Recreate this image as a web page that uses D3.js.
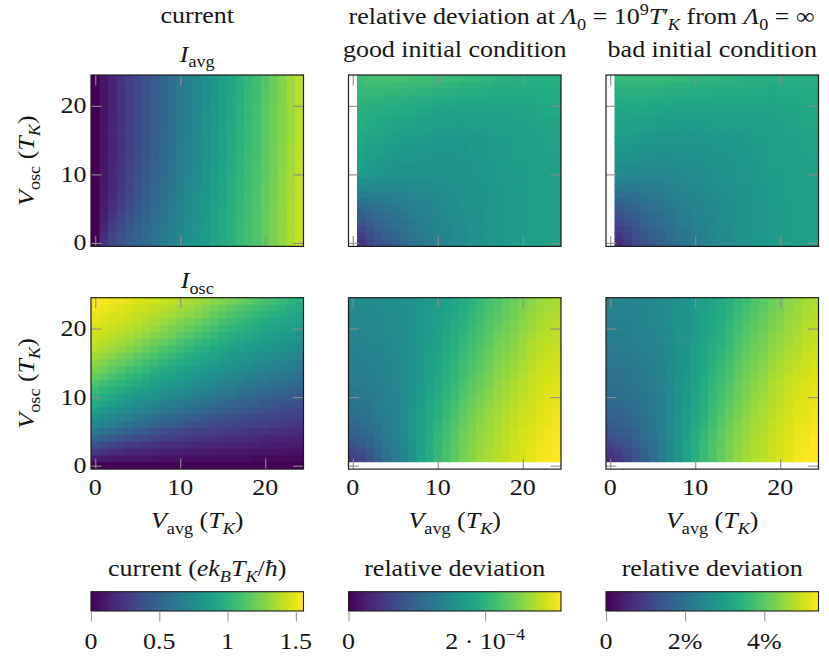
<!DOCTYPE html>
<html><head><meta charset="utf-8">
<script src="https://cdn.jsdelivr.net/npm/d3@7"></script>
<style>
body{margin:0;background:#fff}
svg text{font-family:"Liberation Serif","Times New Roman",serif;fill:#161616}
</style></head><body>
<svg id="fig" width="829" height="660"></svg>
<script>
// Grid coordinates (units of T_K)
const vAvg = [0,1,2,3,4,5,6,7,8,9,10,11,12,13,14,15,16,17,18,19,20,21,22,23,24];
const vOsc = [0,1,2,3,4,5,6,7,8,9,10,11,12,13,14,15,16,17,18,19,20,21,22,23,24];
const axisTicks = [0,10,20];

// Each inner array is one V_avg column, listing V_osc = 0..24.
// Average current I_avg (e k_B T_K / hbar)
const iAvg = [
[0,0,0,0,0, 0,0,0,0,0, 0,0,0,0,0, 0,0,0,0,0, 0,0,0,0,0],
[.22,.20,.17,.15,.13, .11,.11,.10,.10,.09, .09,.09,.09,.08,.08, .08,.08,.08,.08,.08, .08,.08,.08,.08,.08],
[.32,.31,.28,.25,.22, .21,.19,.18,.18,.17, .17,.17,.16,.16,.16, .16,.16,.16,.16,.15, .15,.15,.15,.15,.15],
[.39,.38,.36,.33,.31, .29,.27,.26,.25,.24, .24,.23,.23,.23,.22, .22,.22,.22,.22,.22, .22,.22,.22,.22,.22],
[.45,.44,.42,.40,.38, .36,.34,.33,.32,.31, .31,.30,.30,.29,.29, .29,.29,.28,.28,.28, .28,.28,.28,.28,.28],
[.50,.49,.48,.46,.44, .43,.41,.40,.39,.38, .37,.37,.36,.36,.35, .35,.35,.35,.35,.34, .34,.34,.34,.34,.34],
[.54,.54,.53,.51,.49, .48,.46,.45,.44,.43, .43,.42,.42,.41,.41, .40,.40,.40,.40,.40, .39,.39,.39,.39,.39],
[.59,.59,.58,.57,.55, .54,.53,.52,.51,.50, .49,.48,.48,.47,.47, .47,.46,.46,.46,.46, .46,.46,.45,.45,.45],
[.63,.63,.62,.61,.60, .59,.58,.57,.56,.55, .54,.54,.53,.53,.52, .52,.52,.51,.51,.51, .51,.51,.51,.50,.50],
[.67,.67,.66,.66,.65, .64,.63,.62,.61,.60, .59,.59,.58,.58,.57, .57,.57,.57,.56,.56, .56,.56,.56,.56,.55],
[.72,.72,.71,.71,.70, .69,.68,.68,.67,.66, .65,.65,.64,.64,.64, .63,.63,.63,.62,.62, .62,.62,.62,.62,.62],
[.77,.77,.77,.76,.75, .75,.74,.73,.72,.72, .71,.70,.70,.69,.69, .69,.68,.68,.68,.68, .67,.67,.67,.67,.67],
[.81,.81,.81,.80,.80, .79,.78,.78,.77,.76, .76,.75,.75,.74,.74, .74,.73,.73,.73,.73, .72,.72,.72,.72,.72],
[.85,.85,.85,.84,.84, .83,.83,.82,.82,.81, .81,.80,.80,.79,.79, .79,.78,.78,.78,.78, .77,.77,.77,.77,.77],
[.90,.90,.90,.89,.89, .89,.88,.87,.87,.86, .86,.85,.85,.85,.84, .84,.84,.83,.83,.83, .83,.82,.82,.82,.82],
[.94,.94,.94,.94,.93, .93,.92,.92,.91,.91, .91,.90,.90,.89,.89, .89,.88,.88,.88,.88, .88,.87,.87,.87,.87],
[.99,.99,.99,.99,.98, .98,.98,.97,.97,.96, .96,.95,.95,.95,.94, .94,.94,.93,.93,.93, .93,.93,.92,.92,.92],
[1.04,1.04,1.04,1.04,1.03, 1.03,1.03,1.02,1.02,1.02, 1.01,1.01,1.01,1.00,1.00, 1.00,1.00,.99,.99,.99, .99,.98,.98,.98,.98],
[1.09,1.09,1.09,1.09,1.08, 1.08,1.08,1.08,1.07,1.07, 1.07,1.06,1.06,1.06,1.05, 1.05,1.05,1.04,1.04,1.04, 1.04,1.04,1.04,1.03,1.03],
[1.13,1.13,1.13,1.13,1.13, 1.12,1.12,1.12,1.12,1.11, 1.11,1.11,1.10,1.10,1.10, 1.10,1.09,1.09,1.09,1.09, 1.09,1.08,1.08,1.08,1.08],
[1.19,1.19,1.19,1.19,1.19, 1.18,1.18,1.18,1.18,1.17, 1.17,1.17,1.17,1.16,1.16, 1.16,1.16,1.15,1.15,1.15, 1.15,1.15,1.14,1.14,1.14],
[1.24,1.24,1.24,1.24,1.24, 1.24,1.23,1.23,1.23,1.23, 1.22,1.22,1.22,1.22,1.22, 1.21,1.21,1.21,1.21,1.21, 1.21,1.20,1.20,1.20,1.20],
[1.30,1.30,1.30,1.30,1.30, 1.30,1.29,1.29,1.29,1.29, 1.29,1.28,1.28,1.28,1.28, 1.27,1.27,1.27,1.27,1.27, 1.27,1.26,1.26,1.26,1.26],
[1.36,1.36,1.36,1.36,1.36, 1.36,1.35,1.35,1.35,1.35, 1.35,1.34,1.34,1.34,1.34, 1.33,1.33,1.33,1.33,1.33, 1.33,1.32,1.32,1.32,1.32],
[1.42,1.42,1.42,1.42,1.42, 1.42,1.42,1.41,1.41,1.41, 1.41,1.41,1.41,1.40,1.40, 1.40,1.40,1.40,1.40,1.40, 1.39,1.39,1.39,1.39,1.39]
];

// Oscillating current amplitude I_osc (e k_B T_K / hbar)
const iOsc = [
[0,.12,.25,.38,.50, .62,.71,.79,.87,.94, 1.00,1.06,1.12,1.19,1.25, 1.29,1.34,1.38,1.42,1.44, 1.46,1.49,1.51,1.54,1.56],
[0,.11,.23,.35,.47, .58,.68,.76,.83,.90, .96,1.02,1.08,1.15,1.21, 1.26,1.31,1.35,1.39,1.42, 1.45,1.47,1.49,1.52,1.54],
[0,.10,.21,.32,.44, .55,.64,.73,.80,.87, .93,.99,1.05,1.11,1.17, 1.22,1.28,1.32,1.36,1.40, 1.43,1.45,1.47,1.50,1.52],
[0,.10,.20,.30,.41, .51,.61,.69,.76,.83, .89,.95,1.01,1.07,1.13, 1.19,1.24,1.30,1.34,1.37, 1.41,1.44,1.46,1.48,1.51],
[0,.09,.18,.27,.38, .48,.57,.66,.73,.80, .86,.92,.98,1.03,1.09, 1.15,1.21,1.27,1.31,1.35, 1.39,1.42,1.44,1.46,1.49],
[0,.09,.17,.26,.36, .45,.54,.63,.70,.77, .83,.89,.95,1.00,1.06, 1.12,1.17,1.23,1.28,1.32, 1.36,1.40,1.42,1.44,1.47],
[0,.08,.16,.24,.34, .43,.52,.60,.68,.74, .81,.86,.92,.97,1.03, 1.08,1.14,1.20,1.25,1.30, 1.34,1.37,1.40,1.43,1.46],
[0,.08,.15,.23,.31, .40,.49,.57,.65,.71, .78,.83,.88,.93,.99, 1.05,1.11,1.16,1.21,1.27, 1.31,1.35,1.38,1.41,1.44],
[0,.07,.14,.21,.29, .37,.46,.54,.62,.68, .75,.80,.85,.90,.96, 1.01,1.07,1.12,1.18,1.24, 1.28,1.32,1.36,1.39,1.42],
[0,.07,.13,.20,.28, .35,.44,.52,.60,.66, .73,.78,.83,.88,.93, .98,1.04,1.09,1.15,1.21, 1.25,1.29,1.34,1.37,1.40],
[0,.07,.13,.19,.27, .34,.42,.50,.57,.64, .70,.76,.81,.86,.91, .96,1.01,1.06,1.11,1.17, 1.22,1.26,1.31,1.34,1.38],
[0,.06,.12,.18,.25, .32,.39,.47,.55,.61, .68,.73,.78,.83,.88, .93,.97,1.02,1.07,1.14, 1.18,1.23,1.29,1.32,1.35],
[0,.06,.11,.17,.24, .30,.37,.45,.52,.59, .65,.71,.76,.81,.85, .90,.94,.99,1.04,1.10, 1.15,1.20,1.26,1.29,1.33],
[0,.06,.11,.17,.23, .29,.36,.43,.50,.57, .63,.69,.74,.79,.83, .88,.92,.97,1.01,1.07, 1.12,1.17,1.23,1.26,1.31],
[0,.06,.11,.16,.22, .28,.34,.41,.48,.55, .61,.67,.72,.77,.81, .86,.90,.94,.99,1.04, 1.09,1.14,1.19,1.23,1.28],
[0,.05,.10,.16,.21, .27,.33,.39,.46,.52, .58,.64,.69,.74,.79, .83,.87,.92,.96,1.00, 1.05,1.10,1.16,1.20,1.26],
[0,.05,.10,.15,.20, .26,.31,.37,.44,.50, .56,.62,.67,.72,.77, .81,.85,.89,.93,.97, 1.02,1.07,1.12,1.17,1.23],
[0,.05,.10,.15,.19, .25,.30,.36,.42,.48, .54,.60,.65,.70,.75, .79,.83,.87,.91,.95, 1.00,1.04,1.09,1.14,1.20],
[0,.05,.09,.14,.19, .24,.30,.35,.41,.47, .52,.58,.63,.68,.73, .77,.82,.85,.89,.93, .97,1.01,1.06,1.11,1.17],
[0,.04,.09,.14,.18, .23,.29,.33,.39,.45, .50,.56,.61,.66,.71, .75,.80,.83,.87,.90, .95,.98,1.03,1.08,1.13],
[0,.04,.08,.13,.17, .22,.28,.32,.37,.43, .48,.54,.59,.64,.69, .73,.78,.81,.85,.88, .92,.95,1.00,1.05,1.10],
[0,.04,.08,.13,.17, .21,.27,.31,.36,.42, .47,.52,.57,.62,.67, .71,.76,.80,.83,.87, .90,.93,.98,1.02,1.07],
[0,.04,.08,.12,.16, .21,.26,.30,.35,.40, .45,.51,.56,.61,.66, .70,.74,.78,.82,.85, .89,.92,.96,1.00,1.04],
[0,.04,.07,.12,.15, .20,.25,.29,.33,.39, .44,.49,.54,.59,.64, .68,.72,.77,.80,.84, .87,.90,.93,.97,1.01],
[0,.04,.07,.11,.15, .19,.24,.28,.32,.37, .42,.47,.52,.57,.62, .66,.70,.75,.78,.82, .85,.88,.91,.94,.98]
];

// Relative deviation of I_avg, good initial condition (units of 1e-4)
const devGoodAvg = [
[null,null,null,null,null, null,null,null,null,null, null,null,null,null,null, null,null,null,null,null, null,null,null,null,null],
[.47,.58,.69,.81,.92, 1.03,1.17,1.30,1.44,1.57, 1.71,1.74,1.77,1.81,1.84, 1.87,1.89,1.92,1.94,1.97, 1.99,2.03,2.07,2.11,2.15],
[.62,.71,.81,.90,1.00, 1.09,1.20,1.31,1.43,1.54, 1.65,1.69,1.72,1.76,1.79, 1.83,1.86,1.88,1.91,1.93, 1.96,2.02,2.07,2.13,2.18],
[.78,.85,.93,1.00,1.08, 1.15,1.24,1.34,1.43,1.53, 1.62,1.66,1.69,1.73,1.76, 1.80,1.83,1.86,1.90,1.93, 1.96,2.02,2.07,2.13,2.18],
[.87,.93,.99,1.06,1.12, 1.18,1.26,1.34,1.43,1.51, 1.59,1.63,1.66,1.70,1.73, 1.77,1.80,1.83,1.87,1.90, 1.93,1.99,2.06,2.12,2.18],
[.96,1.02,1.07,1.13,1.18, 1.24,1.30,1.37,1.43,1.50, 1.56,1.60,1.63,1.67,1.70, 1.74,1.78,1.81,1.85,1.89, 1.93,1.99,2.06,2.12,2.18],
[1.06,1.10,1.15,1.19,1.24, 1.28,1.34,1.39,1.45,1.50, 1.56,1.59,1.62,1.65,1.68, 1.71,1.75,1.79,1.82,1.86, 1.90,1.97,2.04,2.11,2.18],
[1.15,1.19,1.23,1.26,1.30, 1.34,1.38,1.43,1.47,1.52, 1.56,1.59,1.62,1.65,1.68, 1.71,1.75,1.79,1.82,1.86, 1.90,1.96,2.03,2.09,2.15],
[1.24,1.27,1.29,1.32,1.34, 1.37,1.41,1.45,1.48,1.52, 1.56,1.58,1.61,1.63,1.66, 1.68,1.72,1.76,1.79,1.83, 1.87,1.94,2.01,2.08,2.15],
[1.31,1.33,1.35,1.36,1.38, 1.40,1.43,1.46,1.50,1.53, 1.56,1.58,1.61,1.63,1.66, 1.68,1.72,1.76,1.79,1.83, 1.87,1.94,2.01,2.08,2.15],
[1.37,1.39,1.41,1.42,1.44, 1.46,1.48,1.50,1.52,1.54, 1.56,1.58,1.60,1.61,1.63, 1.65,1.69,1.72,1.76,1.79, 1.83,1.90,1.97,2.04,2.11],
[1.40,1.42,1.44,1.45,1.47, 1.49,1.50,1.52,1.53,1.55, 1.56,1.58,1.60,1.61,1.63, 1.65,1.69,1.72,1.76,1.79, 1.83,1.90,1.97,2.04,2.11],
[1.46,1.47,1.48,1.50,1.51, 1.52,1.53,1.55,1.56,1.58, 1.59,1.60,1.61,1.63,1.64, 1.65,1.69,1.72,1.76,1.79, 1.83,1.89,1.96,2.02,2.08],
[1.49,1.50,1.52,1.53,1.55, 1.56,1.57,1.57,1.58,1.58, 1.59,1.60,1.61,1.63,1.64, 1.65,1.68,1.71,1.74,1.77, 1.80,1.86,1.93,1.99,2.05],
[1.56,1.56,1.56,1.56,1.56, 1.56,1.57,1.58,1.60,1.61, 1.62,1.63,1.64,1.66,1.67, 1.68,1.70,1.73,1.75,1.78, 1.80,1.86,1.93,1.99,2.05],
[1.59,1.59,1.59,1.59,1.59, 1.59,1.60,1.60,1.61,1.61, 1.62,1.63,1.64,1.66,1.67, 1.68,1.70,1.73,1.75,1.78, 1.80,1.86,1.91,1.97,2.02],
[1.62,1.62,1.62,1.62,1.62, 1.62,1.63,1.63,1.64,1.64, 1.65,1.66,1.66,1.67,1.67, 1.68,1.70,1.73,1.75,1.78, 1.80,1.86,1.91,1.97,2.02],
[1.65,1.65,1.65,1.65,1.65, 1.65,1.66,1.66,1.67,1.67, 1.68,1.69,1.69,1.70,1.70, 1.71,1.73,1.75,1.76,1.78, 1.80,1.85,1.90,1.94,1.99],
[1.68,1.68,1.68,1.68,1.68, 1.68,1.68,1.68,1.68,1.68, 1.68,1.69,1.69,1.70,1.70, 1.71,1.73,1.75,1.76,1.78, 1.80,1.85,1.90,1.94,1.99],
[1.71,1.71,1.71,1.71,1.71, 1.71,1.71,1.71,1.71,1.71, 1.71,1.72,1.72,1.73,1.73, 1.74,1.76,1.78,1.79,1.81, 1.83,1.86,1.90,1.93,1.96],
[1.71,1.71,1.71,1.71,1.71, 1.71,1.71,1.71,1.71,1.71, 1.71,1.72,1.72,1.73,1.73, 1.74,1.76,1.78,1.79,1.81, 1.83,1.86,1.90,1.93,1.96],
[1.74,1.74,1.74,1.74,1.74, 1.74,1.74,1.74,1.74,1.74, 1.74,1.75,1.75,1.76,1.76, 1.77,1.78,1.79,1.81,1.82, 1.83,1.86,1.88,1.91,1.93],
[1.74,1.74,1.74,1.74,1.74, 1.74,1.74,1.74,1.74,1.74, 1.74,1.75,1.75,1.76,1.76, 1.77,1.79,1.81,1.83,1.85, 1.87,1.89,1.90,1.92,1.93],
[1.77,1.77,1.77,1.77,1.77, 1.77,1.77,1.77,1.77,1.77, 1.77,1.78,1.78,1.79,1.79, 1.80,1.81,1.83,1.84,1.86, 1.87,1.89,1.90,1.92,1.93],
[1.77,1.77,1.77,1.77,1.77, 1.77,1.77,1.77,1.77,1.77, 1.77,1.78,1.78,1.79,1.79, 1.80,1.81,1.83,1.84,1.86, 1.87,1.89,1.90,1.92,1.93]
];

// Relative deviation of I_avg, bad initial condition (percent)
const devBadAvg = [
[null,null,null,null,null, null,null,null,null,null, null,null,null,null,null, null,null,null,null,null, null,null,null,null,null],
[.65,.82,.99,1.17,1.34, 1.51,1.71,1.92,2.12,2.33, 2.53,2.62,2.70,2.79,2.87, 2.96,3.01,3.07,3.12,3.18, 3.23,3.31,3.39,3.47,3.55],
[.91,1.05,1.19,1.33,1.47, 1.61,1.79,1.98,2.16,2.35, 2.53,2.62,2.70,2.79,2.87, 2.96,3.01,3.07,3.12,3.18, 3.23,3.32,3.42,3.51,3.60],
[1.18,1.29,1.40,1.50,1.61, 1.72,1.87,2.02,2.17,2.32, 2.47,2.56,2.65,2.73,2.82, 2.91,2.97,3.04,3.10,3.17, 3.23,3.32,3.42,3.51,3.60],
[1.35,1.45,1.54,1.64,1.73, 1.83,1.96,2.09,2.21,2.34, 2.47,2.55,2.62,2.70,2.77, 2.85,2.93,3.00,3.08,3.15, 3.23,3.32,3.42,3.51,3.60],
[1.51,1.60,1.68,1.77,1.85, 1.94,2.05,2.15,2.26,2.36, 2.47,2.55,2.62,2.70,2.77, 2.85,2.91,2.98,3.04,3.11, 3.17,3.28,3.39,3.49,3.60],
[1.67,1.74,1.82,1.89,1.97, 2.04,2.13,2.21,2.30,2.38, 2.47,2.54,2.60,2.67,2.73, 2.80,2.87,2.95,3.02,3.10, 3.17,3.28,3.39,3.49,3.60],
[1.83,1.89,1.96,2.02,2.09, 2.15,2.23,2.30,2.38,2.45, 2.53,2.58,2.64,2.69,2.75, 2.80,2.87,2.95,3.02,3.10, 3.17,3.27,3.36,3.46,3.55],
[1.99,2.04,2.10,2.15,2.21, 2.26,2.31,2.37,2.42,2.48, 2.53,2.58,2.64,2.69,2.75, 2.80,2.86,2.93,2.99,3.06, 3.12,3.23,3.34,3.44,3.55],
[2.10,2.14,2.18,2.23,2.27, 2.31,2.36,2.42,2.47,2.53, 2.58,2.62,2.67,2.71,2.76, 2.80,2.86,2.93,2.99,3.06, 3.12,3.23,3.34,3.44,3.55],
[2.21,2.25,2.29,2.34,2.38, 2.42,2.45,2.48,2.52,2.55, 2.58,2.62,2.67,2.71,2.76, 2.80,2.86,2.93,2.99,3.06, 3.12,3.22,3.31,3.41,3.50],
[2.31,2.34,2.37,2.41,2.44, 2.47,2.50,2.54,2.57,2.61, 2.64,2.67,2.70,2.74,2.77, 2.80,2.86,2.93,2.99,3.06, 3.12,3.22,3.31,3.41,3.50],
[2.42,2.44,2.46,2.49,2.51, 2.53,2.56,2.59,2.63,2.66, 2.69,2.72,2.75,2.79,2.82, 2.85,2.90,2.96,3.01,3.07, 3.12,3.22,3.31,3.41,3.50],
[2.53,2.54,2.55,2.56,2.57, 2.58,2.60,2.62,2.65,2.67, 2.69,2.72,2.75,2.79,2.82, 2.85,2.90,2.96,3.01,3.07, 3.12,3.20,3.28,3.36,3.44],
[2.58,2.59,2.60,2.62,2.63, 2.64,2.66,2.68,2.70,2.72, 2.74,2.76,2.78,2.81,2.83, 2.85,2.90,2.96,3.01,3.07, 3.12,3.20,3.28,3.36,3.44],
[2.69,2.69,2.69,2.69,2.69, 2.69,2.71,2.73,2.76,2.78, 2.80,2.82,2.84,2.87,2.89, 2.91,2.95,2.99,3.04,3.08, 3.12,3.20,3.28,3.36,3.44],
[2.74,2.74,2.74,2.74,2.74, 2.74,2.75,2.76,2.78,2.79, 2.80,2.82,2.84,2.87,2.89, 2.91,2.95,2.99,3.04,3.08, 3.12,3.19,3.25,3.32,3.39],
[2.80,2.80,2.80,2.80,2.80, 2.80,2.81,2.82,2.83,2.84, 2.85,2.87,2.89,2.92,2.94, 2.96,2.99,3.02,3.06,3.09, 3.12,3.19,3.25,3.32,3.39],
[2.85,2.85,2.85,2.85,2.85, 2.85,2.86,2.87,2.89,2.90, 2.91,2.92,2.93,2.94,2.95, 2.96,2.99,3.02,3.06,3.09, 3.12,3.19,3.25,3.32,3.39],
[2.91,2.91,2.91,2.91,2.91, 2.91,2.92,2.93,2.94,2.95, 2.96,2.97,2.98,2.99,3.00, 3.01,3.03,3.05,3.08,3.10, 3.12,3.18,3.23,3.29,3.34],
[2.96,2.96,2.96,2.96,2.96, 2.96,2.96,2.96,2.96,2.96, 2.96,2.97,2.98,2.99,3.00, 3.01,3.04,3.07,3.11,3.14, 3.17,3.21,3.25,3.30,3.34],
[2.96,2.96,2.96,2.96,2.96, 2.96,2.97,2.98,2.99,3.00, 3.01,3.02,3.03,3.05,3.06, 3.07,3.09,3.11,3.13,3.15, 3.17,3.21,3.25,3.30,3.34],
[3.01,3.01,3.01,3.01,3.01, 3.01,3.01,3.01,3.01,3.01, 3.01,3.02,3.03,3.05,3.06, 3.07,3.09,3.11,3.13,3.15, 3.17,3.21,3.25,3.30,3.34],
[3.01,3.01,3.01,3.01,3.01, 3.01,3.02,3.03,3.05,3.06, 3.07,3.08,3.09,3.10,3.11, 3.12,3.14,3.16,3.19,3.21, 3.23,3.26,3.29,3.31,3.34],
[3.07,3.07,3.07,3.07,3.07, 3.07,3.07,3.07,3.07,3.07, 3.07,3.08,3.09,3.10,3.11, 3.12,3.14,3.16,3.19,3.21, 3.23,3.26,3.29,3.31,3.34]
];

// Relative deviation of I_osc, good initial condition (units of 1e-4)
const devGoodOsc = [
[null,.56,.67,.79,.90, .96,1.03,1.09,1.15,1.18, 1.22,1.25,1.28,1.30,1.32, 1.34,1.36,1.38,1.40,1.42, 1.43,1.45,1.46,1.48,1.49],
[null,.65,.75,.86,.96, 1.02,1.07,1.13,1.18,1.21, 1.23,1.26,1.28,1.30,1.32, 1.34,1.36,1.38,1.40,1.42, 1.43,1.45,1.46,1.48,1.49],
[null,.78,.86,.95,1.03, 1.08,1.12,1.17,1.21,1.24, 1.26,1.29,1.31,1.33,1.34, 1.36,1.37,1.39,1.40,1.42, 1.43,1.45,1.46,1.48,1.49],
[null,.96,1.01,1.07,1.12, 1.16,1.20,1.24,1.28,1.30, 1.31,1.33,1.34,1.36,1.37, 1.39,1.40,1.42,1.43,1.44, 1.45,1.46,1.47,1.48,1.49],
[null,1.15,1.18,1.21,1.24, 1.27,1.29,1.32,1.34,1.35, 1.36,1.36,1.37,1.39,1.40, 1.42,1.43,1.45,1.46,1.47, 1.48,1.49,1.50,1.51,1.52],
[null,1.28,1.30,1.32,1.34, 1.36,1.37,1.39,1.40,1.41, 1.42,1.42,1.43,1.44,1.45, 1.46,1.47,1.48,1.49,1.50, 1.50,1.51,1.51,1.52,1.52],
[null,1.40,1.42,1.44,1.46, 1.47,1.47,1.48,1.49,1.49, 1.49,1.49,1.49,1.50,1.50, 1.51,1.51,1.52,1.52,1.53, 1.53,1.54,1.55,1.55,1.56],
[null,1.59,1.60,1.61,1.62, 1.62,1.62,1.62,1.62,1.61, 1.61,1.60,1.59,1.59,1.59, 1.59,1.59,1.59,1.59,1.59, 1.59,1.59,1.59,1.59,1.59],
[null,1.77,1.77,1.77,1.77, 1.76,1.76,1.75,1.74,1.73, 1.71,1.70,1.68,1.68,1.67, 1.67,1.66,1.66,1.65,1.65, 1.64,1.64,1.63,1.63,1.62],
[null,1.93,1.92,1.91,1.90, 1.89,1.89,1.88,1.87,1.85, 1.82,1.80,1.77,1.76,1.75, 1.74,1.73,1.72,1.71,1.71, 1.70,1.70,1.69,1.69,1.68],
[null,2.08,2.07,2.06,2.05, 2.03,2.01,1.98,1.96,1.94, 1.92,1.89,1.87,1.85,1.84, 1.82,1.80,1.79,1.77,1.76, 1.75,1.74,1.73,1.72,1.71],
[null,2.21,2.20,2.19,2.18, 2.16,2.13,2.11,2.08,2.06, 2.04,2.01,1.99,1.97,1.95, 1.93,1.91,1.89,1.87,1.85, 1.84,1.82,1.80,1.79,1.77],
[null,2.33,2.32,2.31,2.30, 2.28,2.26,2.23,2.21,2.18, 2.15,2.11,2.08,2.06,2.04, 2.02,2.00,1.98,1.96,1.94, 1.92,1.90,1.87,1.85,1.83],
[null,2.46,2.45,2.44,2.43, 2.41,2.38,2.36,2.33,2.30, 2.27,2.24,2.21,2.18,2.16, 2.13,2.10,2.08,2.05,2.03, 2.00,1.98,1.95,1.93,1.90],
[null,2.55,2.54,2.53,2.52, 2.50,2.48,2.45,2.43,2.40, 2.37,2.33,2.30,2.28,2.25, 2.23,2.20,2.18,2.15,2.12, 2.10,2.07,2.04,2.02,1.99],
[null,2.64,2.63,2.62,2.61, 2.59,2.57,2.54,2.52,2.49, 2.46,2.42,2.39,2.37,2.34, 2.32,2.29,2.27,2.24,2.21, 2.19,2.16,2.13,2.11,2.08],
[null,2.71,2.70,2.68,2.67, 2.66,2.64,2.63,2.61,2.58, 2.55,2.52,2.49,2.46,2.44, 2.41,2.38,2.36,2.33,2.31, 2.28,2.26,2.23,2.21,2.18],
[null,2.77,2.76,2.75,2.74, 2.72,2.71,2.69,2.67,2.65, 2.63,2.60,2.58,2.56,2.53, 2.51,2.48,2.46,2.43,2.40, 2.37,2.34,2.30,2.27,2.24],
[null,2.83,2.82,2.81,2.80, 2.79,2.77,2.76,2.74,2.72, 2.69,2.67,2.64,2.62,2.59, 2.57,2.54,2.52,2.49,2.46, 2.44,2.41,2.38,2.36,2.33],
[null,2.89,2.88,2.87,2.86, 2.85,2.83,2.82,2.80,2.78, 2.76,2.73,2.71,2.68,2.66, 2.63,2.60,2.58,2.55,2.52, 2.50,2.47,2.44,2.42,2.39],
[null,2.92,2.92,2.92,2.92, 2.91,2.89,2.88,2.86,2.84, 2.82,2.79,2.77,2.75,2.73, 2.71,2.68,2.66,2.64,2.62, 2.59,2.57,2.54,2.52,2.49],
[null,2.99,2.98,2.96,2.95, 2.94,2.92,2.91,2.89,2.88, 2.86,2.85,2.83,2.81,2.79, 2.77,2.75,2.73,2.71,2.68, 2.66,2.63,2.60,2.58,2.55],
[null,3.05,3.04,3.03,3.02, 3.00,2.99,2.97,2.95,2.94, 2.92,2.91,2.89,2.87,2.85, 2.83,2.81,2.79,2.77,2.75, 2.73,2.71,2.68,2.66,2.64],
[null,3.08,3.07,3.06,3.05, 3.04,3.02,3.01,2.99,2.97, 2.96,2.94,2.92,2.90,2.88, 2.86,2.84,2.82,2.80,2.78, 2.76,2.74,2.71,2.69,2.67],
[null,3.11,3.10,3.09,3.08, 3.07,3.05,3.04,3.02,3.00, 2.99,2.97,2.95,2.93,2.91, 2.89,2.87,2.85,2.83,2.81, 2.79,2.77,2.75,2.73,2.71]
];

// Relative deviation of I_osc, bad initial condition (percent)
const devBadOsc = [
[null,.70,.90,1.09,1.29, 1.40,1.51,1.61,1.72,1.79, 1.86,1.92,1.99,2.04,2.08, 2.13,2.17,2.22,2.26,2.29, 2.31,2.34,2.37,2.39,2.42],
[null,.86,1.04,1.22,1.40, 1.50,1.59,1.69,1.78,1.83, 1.89,1.94,1.99,2.04,2.08, 2.13,2.17,2.22,2.26,2.29, 2.31,2.34,2.37,2.39,2.42],
[null,1.08,1.22,1.37,1.51, 1.59,1.67,1.75,1.83,1.88, 1.94,1.99,2.04,2.08,2.11, 2.15,2.19,2.22,2.26,2.29, 2.31,2.34,2.37,2.39,2.42],
[null,1.35,1.46,1.56,1.67, 1.74,1.81,1.87,1.94,1.98, 2.02,2.06,2.10,2.14,2.17, 2.21,2.24,2.28,2.31,2.34, 2.36,2.39,2.42,2.44,2.47],
[null,1.61,1.68,1.76,1.83, 1.88,1.94,1.99,2.04,2.07, 2.10,2.12,2.15,2.19,2.22, 2.26,2.30,2.33,2.37,2.39, 2.40,2.42,2.44,2.45,2.47],
[null,1.88,1.93,1.99,2.04, 2.07,2.10,2.12,2.15,2.18, 2.21,2.23,2.26,2.29,2.31, 2.34,2.37,2.39,2.42,2.44, 2.46,2.48,2.49,2.51,2.53],
[null,2.15,2.19,2.22,2.26, 2.27,2.29,2.30,2.31,2.33, 2.34,2.36,2.37,2.39,2.40, 2.42,2.44,2.45,2.47,2.49, 2.51,2.53,2.54,2.56,2.58],
[null,2.47,2.49,2.51,2.53, 2.53,2.53,2.53,2.53,2.53, 2.53,2.53,2.53,2.54,2.55, 2.56,2.56,2.57,2.58,2.59, 2.60,2.61,2.62,2.63,2.64],
[null,2.80,2.80,2.80,2.80, 2.79,2.77,2.76,2.74,2.73, 2.72,2.70,2.69,2.69,2.69, 2.69,2.69,2.69,2.69,2.69, 2.69,2.69,2.69,2.69,2.69],
[null,3.12,3.10,3.09,3.07, 3.04,3.02,2.99,2.96,2.93, 2.91,2.88,2.85,2.84,2.83, 2.83,2.82,2.81,2.80,2.80, 2.80,2.80,2.80,2.80,2.80],
[null,3.39,3.37,3.36,3.34, 3.30,3.26,3.21,3.17,3.15, 3.12,3.10,3.07,3.05,3.03, 3.02,3.00,2.98,2.96,2.95, 2.94,2.94,2.93,2.92,2.91],
[null,3.66,3.64,3.62,3.60, 3.55,3.50,3.44,3.39,3.36, 3.34,3.31,3.28,3.25,3.23, 3.20,3.17,3.15,3.12,3.10, 3.08,3.07,3.05,3.03,3.01],
[null,3.87,3.85,3.84,3.82, 3.78,3.74,3.70,3.66,3.62, 3.58,3.54,3.50,3.46,3.43, 3.39,3.35,3.32,3.28,3.25, 3.23,3.20,3.17,3.15,3.12],
[null,4.09,4.07,4.06,4.04, 4.00,3.96,3.91,3.87,3.83, 3.79,3.75,3.71,3.67,3.62, 3.58,3.53,3.49,3.44,3.41, 3.37,3.34,3.30,3.27,3.23],
[null,4.30,4.28,4.27,4.25, 4.21,4.17,4.13,4.09,4.04, 3.98,3.93,3.87,3.83,3.78, 3.74,3.69,3.65,3.60,3.57, 3.53,3.50,3.46,3.43,3.39],
[null,4.47,4.45,4.43,4.41, 4.37,4.33,4.29,4.25,4.21, 4.17,4.13,4.09,4.05,4.00, 3.96,3.91,3.87,3.82,3.78, 3.73,3.69,3.64,3.60,3.55],
[null,4.63,4.61,4.59,4.57, 4.53,4.49,4.45,4.41,4.37, 4.33,4.29,4.25,4.21,4.16, 4.12,4.07,4.03,3.98,3.94, 3.89,3.85,3.80,3.76,3.71],
[null,4.73,4.71,4.70,4.68, 4.65,4.63,4.60,4.57,4.53, 4.49,4.45,4.41,4.37,4.32, 4.28,4.23,4.19,4.14,4.10, 4.05,4.01,3.96,3.92,3.87],
[null,4.84,4.82,4.81,4.79, 4.76,4.74,4.71,4.68,4.64, 4.60,4.56,4.52,4.48,4.43, 4.39,4.34,4.30,4.25,4.21, 4.16,4.12,4.07,4.03,3.98],
[null,4.95,4.93,4.92,4.90, 4.87,4.85,4.82,4.79,4.76, 4.74,4.71,4.68,4.64,4.59, 4.55,4.50,4.46,4.41,4.37, 4.32,4.28,4.23,4.19,4.14],
[null,5.06,5.04,5.02,5.00, 4.98,4.95,4.93,4.90,4.87, 4.85,4.82,4.79,4.75,4.70, 4.66,4.61,4.57,4.52,4.48, 4.43,4.39,4.34,4.30,4.25],
[null,5.16,5.14,5.13,5.11, 5.08,5.06,5.03,5.00,4.98, 4.95,4.93,4.90,4.86,4.81, 4.77,4.72,4.68,4.63,4.59, 4.56,4.52,4.48,4.45,4.41],
[null,5.27,5.25,5.24,5.22, 5.19,5.17,5.14,5.11,5.08, 5.06,5.03,5.00,4.96,4.91, 4.87,4.82,4.78,4.73,4.70, 4.66,4.63,4.59,4.56,4.52],
[null,5.33,5.31,5.29,5.27, 5.24,5.22,5.19,5.16,5.14, 5.11,5.09,5.06,5.02,4.99, 4.95,4.91,4.88,4.84,4.81, 4.77,4.74,4.70,4.67,4.63],
[null,5.38,5.36,5.35,5.33, 5.30,5.28,5.25,5.22,5.19, 5.17,5.14,5.11,5.08,5.04, 5.01,4.97,4.94,4.90,4.86, 4.83,4.79,4.75,4.72,4.68]
];

// Colour ranges and colour-bar ticks
const currentMax = 1.556, goodMax = 3.11, badMax = 5.37;
const currentTicks = [0, 0.5, 1, 1.5];
const goodTicks = [0, 2];      // in units of 1e-4
const badTicks = [0, 2, 4];    // percent

// ---------- layout ----------
const colX = [91, 348.5, 606], PW = 212.5;
const rowY = [75, 297.7], PH = 171.4;
const FS = 23, SX = 1.13, TL = 10.5;
const CBY = 591.7, CBH = 19.3;
const FONT = '"Liberation Serif","Times New Roman",serif';

const svg = d3.select("#fig");
const defs = svg.append("defs");

// text with italic / sub / superscript runs
function rich(x, y, parts, opt = {}) {
  const size = opt.size || FS, anchor = opt.anchor || "middle";
  const t = svg.append("text")
    .attr("transform", `translate(${x},${y})${opt.rotate ? ` rotate(${opt.rotate})` : ""} scale(${SX},1)`)
    .attr("text-anchor", anchor).attr("font-size", size).attr("font-family", FONT);
  let off = 0;
  parts.forEach(p => {
    if (typeof p === "string") p = { t: p };
    const target = p.sub ? size * 0.24 : p.sup ? -size * 0.4 : 0;
    const s = t.append("tspan").text(p.t).attr("dy", target - off);
    if (p.sub || p.sup) s.attr("font-size", size * 0.7);
    if (p.it) s.attr("font-style", "italic");
    if (p.dx) s.attr("dx", p.dx);
    off = target;
  });
  return t;
}

const panels = [
  { data: iAvg,       col: 0, row: 0, max: currentMax },
  { data: devGoodAvg, col: 1, row: 0, max: goodMax },
  { data: devBadAvg,  col: 2, row: 0, max: badMax },
  { data: iOsc,       col: 0, row: 1, max: currentMax },
  { data: devGoodOsc, col: 1, row: 1, max: goodMax },
  { data: devBadOsc,  col: 2, row: 1, max: badMax }
];

panels.forEach(p => {
  const x0 = colX[p.col], y0 = rowY[p.row];
  const x = d3.scaleLinear().domain([-0.5, 24.5]).range([x0, x0 + PW]);
  const y = d3.scaleLinear().domain([-0.5, 24.5]).range([y0 + PH, y0]);
  const color = d3.scaleSequential(d3.interpolateViridis).domain([0, p.max]).clamp(true);
  const id = `clip${p.col}${p.row}`;
  defs.append("clipPath").attr("id", id).append("rect")
    .attr("x", x0).attr("y", y0).attr("width", PW).attr("height", PH);

  const cells = [];
  p.data.forEach((column, i) => column.forEach((v, j) => {
    if (v != null) cells.push({ a: vAvg[i], o: vOsc[j], v });
  }));
  const cw = x(1) - x(0), ch = y(0) - y(1);
  svg.append("g").attr("clip-path", `url(#${id})`)
    .selectAll("rect").data(cells).join("rect")
    .attr("x", d => x(d.a - 0.5)).attr("y", d => y(d.o + 0.5) - 0.7)
    .attr("width", cw + 0.7).attr("height", ch + 0.7)
    .attr("fill", d => color(d.v));

  // inward ticks on all four sides
  const inward = (axis, tx, ty) => {
    const g = svg.append("g").attr("transform", `translate(${tx},${ty})`)
      .call(axis.tickValues(axisTicks).tickSizeInner(-TL).tickSizeOuter(0).tickFormat(""));
    g.select(".domain").remove();
    g.selectAll("text").remove();
    g.selectAll("line").attr("stroke", "#8c8c8c").attr("stroke-width", 1.1);
  };
  inward(d3.axisBottom(x), 0, y0 + PH);
  inward(d3.axisTop(x), 0, y0);
  inward(d3.axisLeft(y), x0, 0);
  inward(d3.axisRight(y), x0 + PW, 0);

  svg.append("rect").attr("x", x0).attr("y", y0).attr("width", PW).attr("height", PH)
    .attr("fill", "none").attr("stroke", "#1c1c1c").attr("stroke-width", 1.2);

  if (p.row === 1) axisTicks.forEach(v => rich(x(v), y0 + PH + 25.7, [String(v)]));
  if (p.col === 0) axisTicks.forEach(v => rich(x0 - 4.5, y(v) + 7.5, [String(v)], { anchor: "end" }));
});

// titles
const cx = c => colX[c] + PW / 2;
rich(cx(0), 23.3, ["current"]);
rich(cx(0), 61.5, [{ t: "I", it: true }, { t: "avg", sub: true }]);
rich((colX[1] + colX[2] + PW) / 2 - 2, 24, [
  "relative deviation at ", { t: "Λ", it: true }, { t: "0", sub: true }, " = 10", { t: "9", sup: true },
  { t: "T", it: true }, { t: "′" }, { t: "K", it: true, sub: true, dx: -1 }, " from ",
  { t: "Λ", it: true }, { t: "0", sub: true }, " = ∞"
]);
rich(cx(1), 56.7, ["good initial condition"]);
rich(cx(2), 56.7, ["bad initial condition"]);
rich(cx(0), 288, [{ t: "I", it: true }, { t: "osc", sub: true }]);

// axis labels
const yLab = [{ t: "V", it: true }, { t: "osc", sub: true }, " (", { t: "T", it: true }, { t: "K", it: true, sub: true }, ")"];
rowY.forEach(r => rich(34, r + PH / 2, yLab, { rotate: -90 }));
const xLab = [{ t: "V", it: true }, { t: "avg", sub: true }, " (", { t: "T", it: true }, { t: "K", it: true, sub: true }, ")"];
[0, 1, 2].forEach(c => rich(cx(c), 528, xLab));

// colour bars
const grad = defs.append("linearGradient").attr("id", "viridisGrad").attr("x1", 0).attr("x2", 1).attr("y1", 0).attr("y2", 0);
d3.range(0, 1.0001, 0.05).forEach(t => grad.append("stop").attr("offset", t).attr("stop-color", d3.interpolateViridis(t)));

const bars = [
  { col: 0, max: currentMax, ticks: currentTicks,
    labels: [["0"], ["0.5"], ["1"], ["1.5"]],
    title: ["current (", { t: "ek", it: true }, { t: "B", it: true, sub: true }, { t: "T", it: true }, { t: "K", it: true, sub: true }, "/", { t: "ħ", it: true }, ")"] },
  { col: 1, max: goodMax, ticks: goodTicks,
    labels: [["0"], ["2 · 10", { t: "−4", sup: true }]],
    title: ["relative deviation"] },
  { col: 2, max: badMax, ticks: badTicks,
    labels: [["0"], ["2%"], ["4%"]],
    title: ["relative deviation"] }
];
bars.forEach(b => {
  const x0 = colX[b.col];
  const s = d3.scaleLinear().domain([0, b.max]).range([x0, x0 + PW]);
  svg.append("rect").attr("x", x0).attr("y", CBY).attr("width", PW).attr("height", CBH)
    .attr("fill", "url(#viridisGrad)").attr("stroke", "#1c1c1c").attr("stroke-width", 1.1);
  const g = svg.append("g").attr("transform", `translate(0,${CBY + CBH})`)
    .call(d3.axisBottom(s).tickValues(b.ticks).tickSizeInner(10.5).tickSizeOuter(0).tickFormat(""));
  g.select(".domain").remove();
  g.selectAll("text").remove();
  g.selectAll("line").attr("stroke", "#9a9a9a").attr("stroke-width", 1.1);
  b.ticks.forEach((v, i) => rich(s(v), 649, b.labels[i]));
  rich(x0 + PW / 2, 576, b.title);
});
</script>
</body></html>
